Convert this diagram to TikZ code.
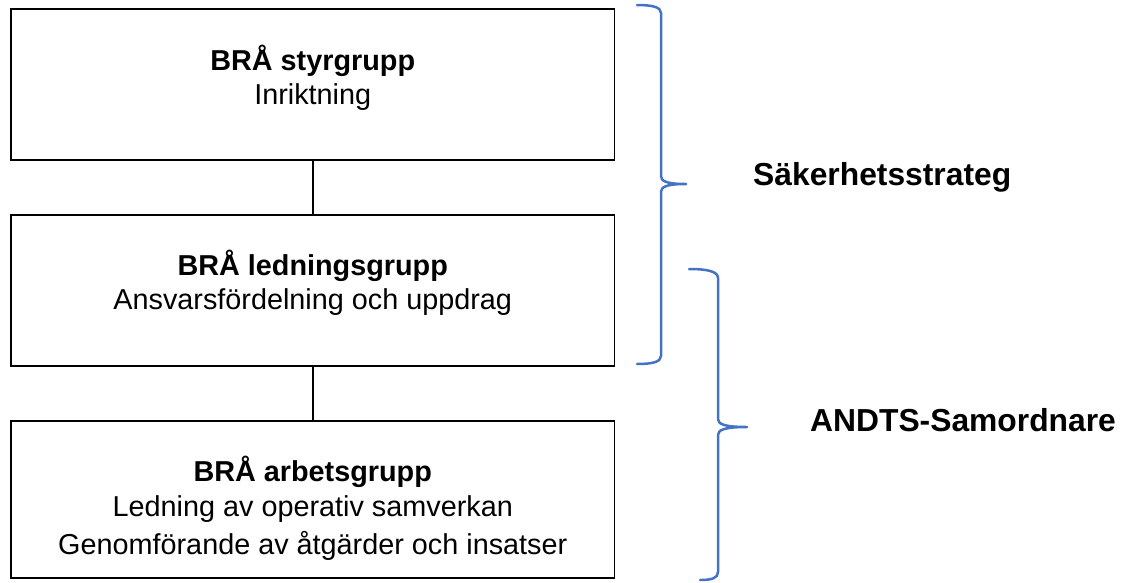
\documentclass[tikz,border=0pt]{standalone}
\usepackage{fontspec}
\setmainfont{Liberation Sans}
\definecolor{bracecol}{HTML}{4472C4}
\begin{document}
\begin{tikzpicture}[x=1pt,y=-1pt,
  box/.style={draw=black,line width=1.7pt,rectangle,inner sep=0pt,minimum width=603.5pt},
  title/.style={anchor=base,inner sep=0pt,font=\fontsize{28.8}{34}\selectfont\bfseries},
  sub/.style={anchor=base,inner sep=0pt,font=\fontsize{28.8}{34}\selectfont},
  side/.style={anchor=base west,inner sep=0pt,font=\fontsize{31.8}{36}\selectfont\bfseries},
  link/.style={draw=black,line width=1.5pt},
  bracepath/.style={draw=bracecol,line width=2.5pt,line cap=round,line join=round}]
\useasboundingbox (0,0) rectangle (1130,582);
% boxes
\node[box,minimum height=151pt] (b1) at (312.75,84.5) {};
\node[box,minimum height=151pt] (b2) at (312.75,290.5) {};
\node[box,minimum height=157pt] (b3) at (312.75,499.5) {};
% connectors
\draw[link] (b1.south) -- (b2.north);
\draw[link] (b2.south) -- (b3.north);
% texts
\node[title] (t1) at (312.75,70) {BRÅ styrgrupp};
\node[sub] (s1) at (312.75,104) {Inriktning};
\node[title] (t2) at (312.75,275) {BRÅ ledningsgrupp};
\node[sub] (s2) at (312.75,309) {Ansvarsfördelning och uppdrag};
\node[title] (t3) at (312.75,481.5) {BRÅ arbetsgrupp};
\node[sub] (s3a) at (312.75,516) {Ledning av operativ samverkan};
\node[sub] (s3b) at (312.75,554.5) {Genomförande av åtgärder och insatser};
% braces
\draw[bracepath] (637,5) .. controls (652,5) and (661,7) .. (661,13) -- (661,176)
  .. controls (661,181) and (666,184) .. (686,184)
  .. controls (666,184) and (661,187) .. (661,192) -- (661,356)
  .. controls (661,362) and (652,364) .. (637,364);
\draw[bracepath] (689,269) .. controls (706,269) and (718,271) .. (718,278) -- (718,419)
  .. controls (718,424) and (724,427) .. (747,427)
  .. controls (724,427) and (718,430) .. (718,435) -- (718,572)
  .. controls (718,578) and (712,580) .. (700,580);
% side labels
\node[side] (l1) at (753,185) {Säkerhetsstrateg};
\node[side] (l2) at (810,431.5) {ANDTS-Samordnare};
\end{tikzpicture}
\end{document}
